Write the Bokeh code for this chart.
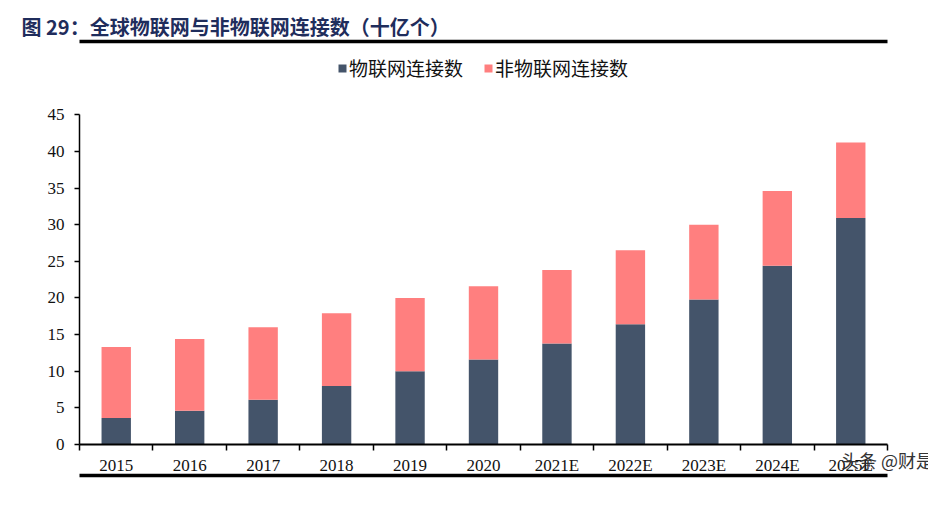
from bokeh.plotting import figure
from bokeh.models import (ColumnDataSource, Range1d, FixedTicker, Legend, LegendItem,
                          Title, LinearAxis)
from bokeh.embed import file_html
from bokeh.resources import INLINE

# ---- data ----
categories = ["2015", "2016", "2017", "2018", "2019", "2020",
              "2021E", "2022E", "2023E", "2024E", "2025E"]
iot = [3.6, 4.6, 6.1, 8.0, 10.0, 11.6, 13.8, 16.4, 19.8, 24.4, 30.9]
non_iot = [9.7, 9.8, 9.9, 9.9, 10.0, 10.0, 10.0, 10.1, 10.2, 10.2, 10.3]
series_names = ["物联网连接数", "非物联网连接数"]
y_ticks = [0, 5, 10, 15, 20, 25, 30, 35, 40, 45]
title_text = "图 29：全球物联网与非物联网连接数（十亿个）"
watermark = "头条 @财是"

colors = ["#44546A", "#FF7F7F"]
W, H = 928, 492
CJK = "Noto Sans CJK SC"
SERIF = "Liberation Serif"

n = len(categories)
xpos = list(range(n))
src = ColumnDataSource(dict(x=xpos, iot=iot, non=non_iot, cat=categories))

p = figure(width=W, height=H, title=None,
           x_range=Range1d(-0.5, n - 0.5), y_range=Range1d(0, 55.0),
           output_backend="svg", toolbar_location=None,
           min_border_left=79, min_border_right=41, min_border_top=37, min_border_bottom=48)
p.grid.visible = False
p.outline_line_color = None

rs = p.vbar_stack(["iot", "non"], x="x", width=0.4, color=colors, source=src, line_color=None)

legend = Legend(items=[LegendItem(label=series_names[0], renderers=[rs[0]]),
                       LegendItem(label=series_names[1], renderers=[rs[1]])],
                orientation="horizontal", location=(258, 363))
legend.label_text_font = CJK
legend.label_text_font_size = "19px"
legend.label_text_color = "#111111"
legend.glyph_width = 10
legend.glyph_height = 10
legend.label_standoff = 2
legend.spacing = 20
legend.padding = 6
legend.margin = 0
legend.border_line_color = None
legend.background_fill_alpha = 0
p.add_layout(legend)

# x axis (category boundaries as minor ticks)
xa = p.xaxis[0]
xa.bounds = (-0.5, n - 0.5)
xa.ticker = FixedTicker(ticks=xpos, minor_ticks=[i - 0.5 for i in range(n + 1)])
xa.major_label_overrides = {i: c for i, c in zip(xpos, categories)}
xa.major_tick_line_color = None
xa.major_tick_out = 6
xa.major_tick_in = 0
xa.minor_tick_line_color = "black"
xa.minor_tick_out = 6
xa.minor_tick_in = 0
xa.minor_tick_line_width = 1.5
xa.axis_line_width = 2
xa.axis_line_color = "black"
xa.major_label_text_font = SERIF
xa.major_label_text_font_size = "17px"
xa.major_label_text_color = "#111111"
xa.major_label_standoff = 5
try:
    xa.axis_label_align = "end"
    xa.axis_label = watermark
    xa.axis_label_standoff = -31
    xa.axis_label_text_font = CJK
    xa.axis_label_text_font_size = "18px"
    xa.axis_label_text_font_style = "normal"
    xa.axis_label_text_color = "#333333"
except AttributeError:
    pass

# y axis
ya = p.yaxis[0]
ya.bounds = (0, 45)
ya.ticker = FixedTicker(ticks=y_ticks)
ya.major_tick_out = 5
ya.major_tick_in = 0
ya.major_tick_line_width = 1.5
ya.minor_tick_line_color = None
ya.axis_line_width = 1.5
ya.axis_line_color = "black"
ya.major_label_text_font = SERIF
ya.major_label_text_font_size = "17px"
ya.major_label_text_color = "#111111"
ya.major_label_standoff = 10


def rule_axis():
    a = LinearAxis(ticker=FixedTicker(ticks=[]))
    a.major_tick_out = 0
    a.major_tick_in = 0
    a.minor_tick_out = 0
    a.minor_tick_in = 0
    a.major_label_standoff = 0
    a.axis_line_width = 3.5
    a.axis_line_color = "black"
    return a


# above: rule (next to the frame), title, then a small top spacer
p.add_layout(rule_axis(), "above")
p.add_layout(Title(text=title_text, align="left", offset=-58, standoff=2,
                   text_font=CJK, text_font_size="20px", text_font_style="bold",
                   text_color="#1F2D5C"), "above")
p.add_layout(Title(text=" ", standoff=0, text_font_size="6px"), "above")

# below: x axis (with watermark label), then rule
p.add_layout(rule_axis(), "below")

open("out.html", "w").write(file_html(p, INLINE))
